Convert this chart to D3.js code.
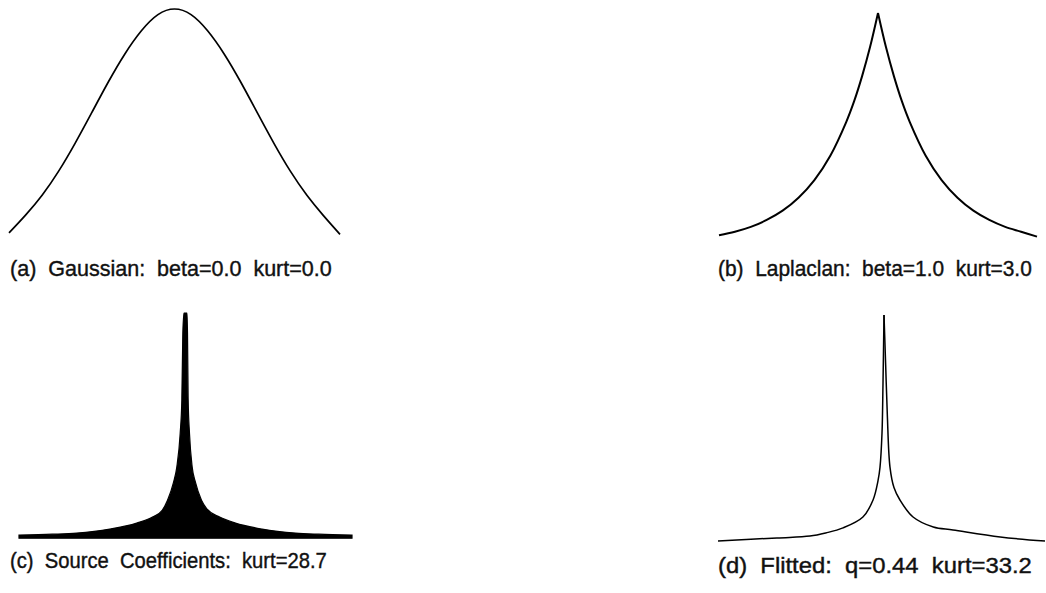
<!DOCTYPE html>
<html>
<head>
    <meta charset="utf-8">
    <title>Coefficient densities</title>
    <script src="https://d3js.org/d3.v7.min.js" charset="utf-8"></script>
    <style>
        body { margin: 0; background: #fff; }
        text { font-family: "Liberation Sans", Arial, sans-serif; white-space: pre; }
    </style>
</head>
<body>
    <script>
        // values, x normalised to [-1, 1], height to [0, 1]
        var gaussX = [-1, -0.9, -0.8, -0.7, -0.6, -0.5, -0.4, -0.3, -0.2, -0.1, 0,
                      0.1, 0.2, 0.3, 0.4, 0.5, 0.6, 0.7, 0.8, 0.9, 1];
        var gaussY = [0.043, 0.119, 0.204, 0.307, 0.427, 0.557, 0.688, 0.808, 0.907, 0.976, 1.0,
                      0.976, 0.907, 0.808, 0.688, 0.557, 0.427, 0.307, 0.204, 0.117, 0.037];

        var laplaceLeftX  = [-1, -0.9, -0.8, -0.7, -0.6, -0.5, -0.4, -0.3, -0.2, -0.15, -0.1, -0.05, 0];
        var laplaceLeftY  = [0.042, 0.057, 0.078, 0.108, 0.148, 0.204, 0.28, 0.385, 0.53, 0.62, 0.728, 0.853, 1];
        var laplaceRightX = [0, 0.05, 0.1, 0.15, 0.2, 0.3, 0.4, 0.5, 0.6, 0.7, 0.8, 0.9, 1];
        var laplaceRightY = [1, 0.853, 0.728, 0.62, 0.53, 0.385, 0.28, 0.204, 0.148, 0.108, 0.078, 0.057, 0.036];

        var sourceX = [-1, -0.8, -0.653, -0.455, -0.293, -0.198, -0.14, -0.108, -0.072, -0.052, -0.032, -0.022, -0.016, -0.009,
                       0.009, 0.012, 0.016, 0.024, 0.040, 0.060, 0.096, 0.13, 0.205, 0.30, 0.46, 0.66, 0.8, 1];
        var sourceY = [0.004, 0.008, 0.013, 0.031, 0.058, 0.085, 0.115, 0.16, 0.24, 0.31, 0.46, 0.61, 0.91, 1.0,
                       1.0, 0.91, 0.61, 0.46, 0.31, 0.24, 0.16, 0.12, 0.085, 0.058, 0.031, 0.013, 0.008, 0.004];

        var fittedLeftX  = [-1, -0.645, -0.446, -0.35, -0.247, -0.127, -0.066, -0.036, -0.024, -0.012, -0.006, 0];
        var fittedLeftY  = [0.004, 0.018, 0.026, 0.04, 0.062, 0.11, 0.185, 0.27, 0.33, 0.48, 0.70, 1.0];
        var fittedRightX = [0, 0.01, 0.02, 0.036, 0.06, 0.096, 0.175, 0.297, 0.416, 0.7, 0.97];
        var fittedRightY = [1.0, 0.78, 0.56, 0.33, 0.24, 0.185, 0.11, 0.066, 0.053, 0.022, 0.004];

        var labels = [
            "(a)  Gaussian:  beta=0.0  kurt=0.0",
            "(b)  Laplaclan:  beta=1.0  kurt=3.0",
            "(c)  Source  Coefficients:  kurt=28.7",
            "(d)  Flitted:  q=0.44  kurt=33.2"
        ];

        function zip(xs, ys) {
            return xs.map(function(d, i) { return [d, ys[i]]; });
        }

        var svg = d3.select("body")
            .append("svg")
            .attr("width", 1046)
            .attr("height", 593);

        svg.append("rect").attr("width", 1046).attr("height", 593).attr("fill", "#fff");

        // panel frames: horizontal extent, baseline and peak in pixels
        var panels = [
            {parts: [zip(gaussX, gaussY)], curve: d3.curveNatural, left: 9, right: 340, base: 243, top: 9, width: 1.7,
             lx: 10, ly: 276, lw: 322},
            {parts: [zip(laplaceLeftX, laplaceLeftY), zip(laplaceRightX, laplaceRightY)],
             left: 719, right: 1037, base: 245, top: 13, width: 2, lx: 718, ly: 276, lw: 314},
            {parts: [zip(sourceX, sourceY)], fill: true, left: 19, right: 352, base: 536, top: 313, width: 1.2,
             lx: 10, ly: 568, lw: 317},
            {parts: [zip(fittedLeftX, fittedLeftY), zip(fittedRightX, fittedRightY)],
             left: 718, right: 1050, base: 542, top: 315, width: 1.5, lx: 718, ly: 573, lw: 314}
        ];

        panels.forEach(function(p, i) {
            var x = d3.scaleLinear().domain([-1, 1]).range([p.left, p.right]);
            var y = d3.scaleLinear().domain([0, 1]).range([p.base, p.top]);
            var g = svg.append("g").attr("class", "panel");

            if (p.fill) {
                // the histogram sits on a thick base band
                var area = d3.area()
                    .x(function(d) { return x(d[0]); })
                    .y0(y(-0.01))
                    .y1(function(d) { return y(d[1]); })
                    .curve(d3.curveMonotoneX);
                g.append("path")
                    .attr("d", area(p.parts[0]))
                    .attr("fill", "#000")
                    .attr("stroke", "#000")
                    .attr("stroke-width", p.width)
                    .attr("stroke-linejoin", "miter");
            } else {
                var line = d3.line()
                    .x(function(d) { return x(d[0]); })
                    .y(function(d) { return y(d[1]); })
                    .curve(p.curve || d3.curveCatmullRom.alpha(0.5));
                p.parts.forEach(function(part) {
                    g.append("path")
                        .attr("d", line(part))
                        .attr("fill", "none")
                        .attr("stroke", "#000")
                        .attr("stroke-width", p.width)
                        .attr("stroke-linejoin", "round");
                });
            }

            // narrow the caption horizontally to the width it has in the scan
            var label = g.append("text")
                .attr("xml:space", "preserve")
                .style("font-size", "22px")
                .attr("fill", "#111")
                .attr("stroke", "#111")
                .attr("stroke-width", 0.4)
                .text(labels[i]);
            var natural = label.node().getComputedTextLength();
            label.attr("transform", "translate(" + p.lx + "," + p.ly + ") scale(" + (p.lw / natural) + ",1)");
        });
    </script>
</body>
</html>
